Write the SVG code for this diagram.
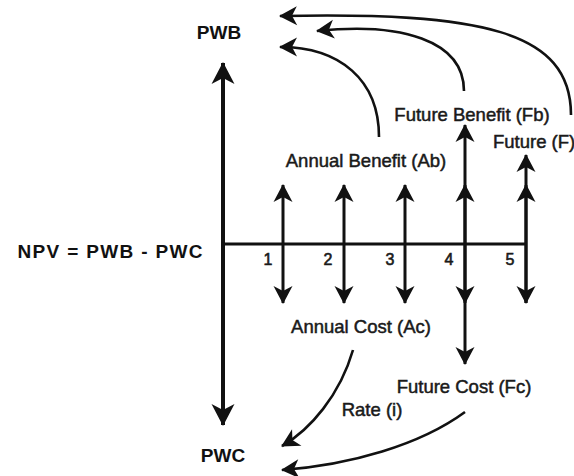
<svg xmlns="http://www.w3.org/2000/svg" width="574" height="476" viewBox="0 0 574 476">
<style>
.t{font-family:"Liberation Sans",Arial,sans-serif;font-size:18.5px;fill:#1a1a1a;stroke:#1a1a1a;stroke-width:0.5}
.b{font-family:"Liberation Sans",Arial,sans-serif;font-size:19px;font-weight:bold;fill:#111}
.n{font-family:"Liberation Sans",Arial,sans-serif;font-size:16px;fill:#1a1a1a;stroke:#1a1a1a;stroke-width:0.6;text-anchor:middle}
.ln{fill:none;stroke:#111;stroke-width:3}
.cv{fill:none;stroke:#111;stroke-width:2.6}
</style>
<defs>
<marker id="ah" markerUnits="userSpaceOnUse" viewBox="-1 -11 21 22" markerWidth="21" markerHeight="22" refX="17" refY="0" orient="auto-start-reverse">
<path d="M0,-9.5 L18,0 L0,9.5 L5,0 Z" fill="#111"/>
</marker>
<marker id="ahL" markerUnits="userSpaceOnUse" viewBox="-1 -13 25 26" markerWidth="25" markerHeight="26" refX="21" refY="0" orient="auto-start-reverse">
<path d="M0,-11.5 L22,0 L0,11.5 L6,0 Z" fill="#111"/>
</marker>
</defs>
<g id="connectors">
<line x1="223" y1="63" x2="223" y2="425" stroke="#111" stroke-width="4" marker-start="url(#ahL)" marker-end="url(#ahL)"/>
<line class="ln" x1="222" y1="244" x2="527" y2="244"/>
<line class="ln" x1="283" y1="185" x2="283" y2="303" marker-start="url(#ah)" marker-end="url(#ah)"/>
<line class="ln" x1="344" y1="185" x2="344" y2="303" marker-start="url(#ah)" marker-end="url(#ah)"/>
<line class="ln" x1="405" y1="185" x2="405" y2="303" marker-start="url(#ah)" marker-end="url(#ah)"/>
<line class="ln" x1="465" y1="185" x2="465" y2="303" marker-start="url(#ah)" marker-end="url(#ah)"/>
<line class="ln" x1="465" y1="125" x2="465" y2="364" marker-start="url(#ah)" marker-end="url(#ah)"/>
<line class="ln" x1="526" y1="185" x2="526" y2="303" marker-start="url(#ah)" marker-end="url(#ah)"/>
<line class="ln" x1="526" y1="155" x2="526" y2="303" marker-start="url(#ah)"/>
<path class="cv" d="M379,137 C379,80 340,47 280,47" marker-end="url(#ah)"/>
<path class="cv" d="M464,91 C464,40 400,22 317,31" marker-end="url(#ah)"/>
<path class="cv" d="M571,115 C571,30 480,12 280,16" marker-end="url(#ah)"/>
<path class="cv" d="M353,350 C340,395 310,430 282,446" marker-end="url(#ah)"/>
<path class="cv" d="M465,412 C420,445 350,465 282,470" marker-end="url(#ah)"/>
</g>
<g id="pwb"><text class="b" x="219" y="39" text-anchor="middle">PWB</text></g>
<g id="pwc"><text class="b" x="223" y="462" text-anchor="middle">PWC</text></g>
<g id="npv"><text class="b" x="110" y="258" text-anchor="middle" textLength="185" lengthAdjust="spacing">NPV = PWB - PWC</text></g>
<g id="annual-benefit"><text class="t" x="366" y="167" text-anchor="middle">Annual Benefit (Ab)</text></g>
<g id="future-benefit"><text class="t" x="472" y="121" text-anchor="middle">Future Benefit (Fb)</text></g>
<g id="future"><text class="t" x="493" y="148">Future (F)</text></g>
<g id="annual-cost"><text class="t" x="361" y="333" text-anchor="middle">Annual Cost (Ac)</text></g>
<g id="future-cost"><text class="t" x="464" y="393" text-anchor="middle">Future Cost (Fc)</text></g>
<g id="rate"><text class="t" x="372" y="416" text-anchor="middle">Rate (i)</text></g>
<g id="periods">
<text class="n" x="268" y="265">1</text>
<text class="n" x="328" y="265">2</text>
<text class="n" x="390" y="265">3</text>
<text class="n" x="449" y="265">4</text>
<text class="n" x="510" y="265">5</text>
</g>
</svg>
